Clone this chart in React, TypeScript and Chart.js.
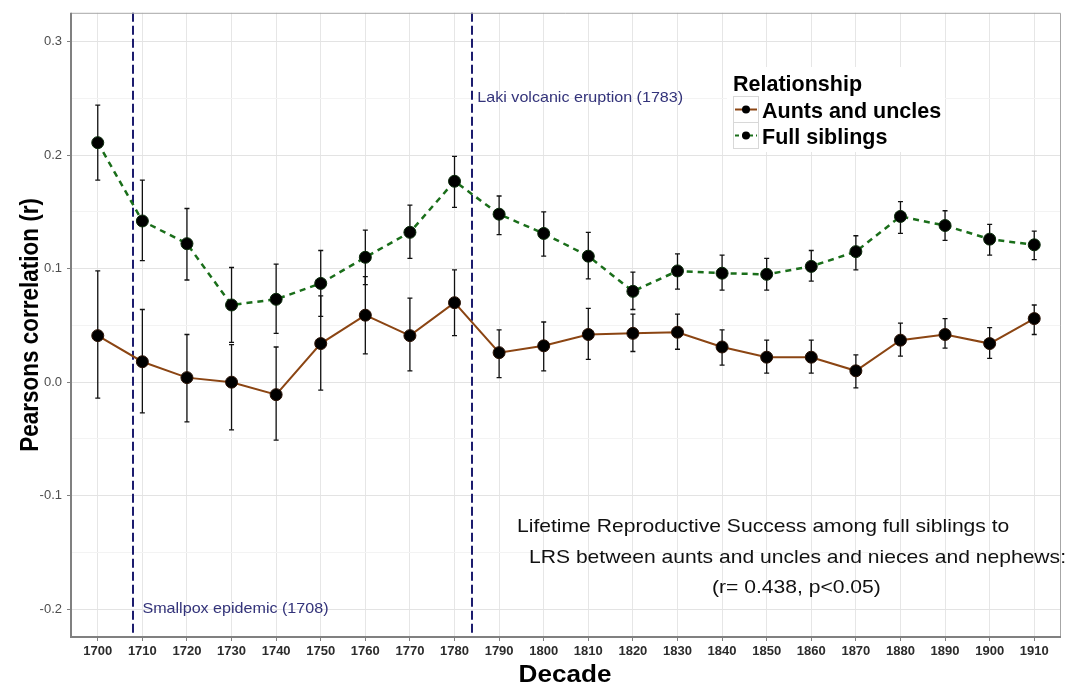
import { useEffect, useRef } from 'react';
import { Chart, registerables } from 'chart.js';
Chart.register(...registerables);

const decades = [1700, 1710, 1720, 1730, 1740, 1750, 1760, 1770, 1780, 1790, 1800, 1810, 1820, 1830, 1840, 1850, 1860, 1870, 1880, 1890, 1900, 1910];
const aunts = [0.041, 0.018, 0.004, 0.000, -0.011, 0.034, 0.059, 0.041, 0.070, 0.026, 0.032, 0.042, 0.043, 0.044, 0.031, 0.022, 0.022, 0.010, 0.037, 0.042, 0.034, 0.056];
const auntsLow = [-0.014, -0.027, -0.035, -0.042, -0.051, -0.007, 0.025, 0.010, 0.041, 0.004, 0.010, 0.020, 0.027, 0.029, 0.015, 0.008, 0.008, -0.005, 0.023, 0.030, 0.021, 0.042];
const auntsHigh = [0.098, 0.064, 0.042, 0.033, 0.031, 0.076, 0.093, 0.074, 0.099, 0.046, 0.053, 0.065, 0.060, 0.060, 0.046, 0.037, 0.037, 0.024, 0.052, 0.056, 0.048, 0.068];
const sibs = [0.211, 0.142, 0.122, 0.068, 0.073, 0.087, 0.110, 0.132, 0.177, 0.148, 0.131, 0.111, 0.080, 0.098, 0.096, 0.095, 0.102, 0.115, 0.146, 0.138, 0.126, 0.121];
const sibsLow = [0.178, 0.107, 0.090, 0.035, 0.043, 0.058, 0.086, 0.109, 0.154, 0.130, 0.111, 0.091, 0.064, 0.082, 0.081, 0.081, 0.089, 0.099, 0.131, 0.125, 0.112, 0.108];
const sibsHigh = [0.244, 0.178, 0.153, 0.101, 0.104, 0.116, 0.134, 0.156, 0.199, 0.164, 0.150, 0.132, 0.097, 0.113, 0.112, 0.109, 0.116, 0.129, 0.159, 0.151, 0.139, 0.133];

const yTicks = [-0.2, -0.15, -0.1, -0.05, 0, 0.05, 0.1, 0.15, 0.2, 0.25, 0.3];
const yMajorLabels = ['-0.2', '', '-0.1', '', '0.0', '', '0.1', '', '0.2', '', '0.3'];

const eventYears = [1708, 1784];
const eventLabels = ['Smallpox epidemic (1708)', 'Laki volcanic eruption (1783)'];
const eventLabelValues = [-0.2, 0.25];
const eventLabelOffsets = [9, 5];

const seriesNames = ['Aunts and uncles', 'Full siblings'];
const legendTitle = 'Relationship';
const noteLines = [
  'Lifetime Reproductive Success among full siblings to',
  'LRS between aunts and uncles and nieces and nephews:',
  '(r= 0.438, p<0.05)',
];

const BROWN = '#8B4513';
const GREEN = '#1a6e1a';
const NAVY = '#1c1c6e';
const FONT = '"Liberation Sans", Arial, sans-serif';
const SX = 1.11;

export default function App() {
  const ref = useRef<HTMLCanvasElement>(null);
  useEffect(() => {
    const stretchText = (ctx: any, text: string, x: number, y: number, align: string) => {
      ctx.save();
      ctx.translate(x, y);
      ctx.scale(SX, 1);
      ctx.textAlign = align;
      ctx.fillText(text, 0, 0);
      ctx.restore();
    };
    const errorBars = {
      id: 'errorBars',
      beforeDatasetsDraw(chart: any) {
        const { ctx, scales } = chart;
        const x = scales.x, y = scales.y;
        ctx.save();
        ctx.strokeStyle = '#111';
        ctx.lineWidth = 1.3;
        const draw = (lo: number[], hi: number[]) => {
          decades.forEach((d, i) => {
            const px = x.getPixelForValue(d);
            const y1 = y.getPixelForValue(lo[i]);
            const y2 = y.getPixelForValue(hi[i]);
            ctx.beginPath();
            ctx.moveTo(px, y1); ctx.lineTo(px, y2);
            ctx.moveTo(px - 2.5, y1); ctx.lineTo(px + 2.5, y1);
            ctx.moveTo(px - 2.5, y2); ctx.lineTo(px + 2.5, y2);
            ctx.stroke();
          });
        };
        draw(auntsLow, auntsHigh);
        draw(sibsLow, sibsHigh);
        ctx.restore();
      },
    };
    const frame = {
      id: 'frame',
      beforeDatasetsDraw(chart: any) {
        const { ctx, chartArea: a, scales } = chart;
        ctx.save();
        ctx.strokeStyle = NAVY;
        ctx.lineWidth = 2;
        ctx.setLineDash([9, 4]);
        eventYears.forEach((yr) => {
          const px = Math.round(scales.x.getPixelForValue(yr));
          ctx.beginPath();
          ctx.moveTo(px, a.top);
          ctx.lineTo(px, a.bottom);
          ctx.stroke();
        });
        ctx.setLineDash([]);
        ctx.strokeStyle = '#a6a6a6';
        ctx.lineWidth = 1;
        ctx.beginPath();
        ctx.moveTo(a.left, a.top + 0.5);
        ctx.lineTo(a.right - 0.5, a.top + 0.5);
        ctx.lineTo(a.right - 0.5, a.bottom);
        ctx.stroke();
        ctx.strokeStyle = '#808080';
        ctx.lineWidth = 2;
        ctx.beginPath();
        ctx.moveTo(a.left, a.top);
        ctx.lineTo(a.left, a.bottom);
        ctx.lineTo(a.right, a.bottom);
        ctx.stroke();
        ctx.restore();
      },
      afterDraw(chart: any) {
        const { ctx, chartArea: a, scales } = chart;
        ctx.save();
        // event labels
        ctx.fillStyle = '#33337a';
        ctx.font = `14.5px ${FONT}`;
        ctx.textBaseline = 'middle';
        eventYears.forEach((yr, i) => {
          const px = scales.x.getPixelForValue(yr);
          stretchText(ctx, eventLabels[i], px + eventLabelOffsets[i], scales.y.getPixelForValue(eventLabelValues[i]), 'left');
        });
        // axis titles
        ctx.textBaseline = 'alphabetic';
        ctx.fillStyle = '#000';
        ctx.font = `bold 23.5px ${FONT}`;
        stretchText(ctx, 'Decade', 565, 681.5, 'center');
        ctx.save();
        ctx.font = `bold 22.5px ${FONT}`;
        ctx.textBaseline = 'middle';
        ctx.translate(31, (a.top + a.bottom) / 2);
        ctx.scale(SX, 1);
        ctx.rotate(-Math.PI / 2);
        ctx.textAlign = 'center';
        ctx.fillText('Pearsons correlation (r)', 0, 0);
        ctx.restore();
        // note text
        ctx.font = `19px ${FONT}`;
        ctx.fillStyle = '#111';
        stretchText(ctx, noteLines[0], 517, 531.5, 'left');
        stretchText(ctx, noteLines[1], 529, 562.5, 'left');
        stretchText(ctx, noteLines[2], 712, 593, 'left');
        // legend
        ctx.fillStyle = '#fff';
        ctx.fillRect(727, 67, 218, 85);
        ctx.fillStyle = '#000';
        ctx.textAlign = 'left';
        ctx.font = `bold 21.5px ${FONT}`;
        ctx.fillText(legendTitle, 733, 91);
        const keys = [
          { y: 96, color: BROWN, dash: [] as number[], name: seriesNames[0], base: 118 },
          { y: 122, color: GREEN, dash: [4, 3], name: seriesNames[1], base: 143.5 },
        ];
        keys.forEach((k) => {
          ctx.strokeStyle = '#d8d8d8';
          ctx.lineWidth = 1;
          ctx.setLineDash([]);
          ctx.strokeRect(733.5, k.y + 0.5, 25, 26);
          ctx.strokeStyle = k.color;
          ctx.lineWidth = 2;
          ctx.setLineDash(k.dash);
          ctx.beginPath();
          ctx.moveTo(735, k.y + 13.5);
          ctx.lineTo(757, k.y + 13.5);
          ctx.stroke();
          ctx.setLineDash([]);
          ctx.fillStyle = '#000';
          ctx.beginPath();
          ctx.arc(746, k.y + 13.5, 4, 0, Math.PI * 2);
          ctx.fill();
          ctx.font = `bold 21.5px ${FONT}`;
          ctx.fillText(k.name, 762, k.base);
        });
        ctx.restore();
      },
    };

    const chart = new Chart(ref.current!, {
      type: 'line',
      data: {
        datasets: [
          {
            label: seriesNames[0],
            data: decades.map((d, i) => ({ x: d, y: aunts[i] })),
            borderColor: BROWN,
            borderWidth: 2,
            pointRadius: 6,
            pointBackgroundColor: '#000',
            pointBorderColor: '#2a1205',
            pointBorderWidth: 1,
          },
          {
            label: seriesNames[1],
            data: decades.map((d, i) => ({ x: d, y: sibs[i] })),
            borderColor: GREEN,
            borderWidth: 2.5,
            borderDash: [6, 5],
            pointRadius: 6,
            pointBackgroundColor: '#000',
            pointBorderColor: '#0a2a0a',
            pointBorderWidth: 1,
          },
        ],
      },
      options: {
        animation: false,
        responsive: false,
        layout: { padding: { top: 9, right: 14, left: 0, bottom: 0 } },
        plugins: { legend: { display: false }, tooltip: { enabled: false } },
        scales: {
          x: {
            type: 'linear',
            min: 1694,
            max: 1916,
            afterBuildTicks: (s: any) => { s.ticks = decades.map((v) => ({ value: v })); },
            afterFit: (s: any) => { s.height = 53; },
            border: { display: false },
            grid: { color: '#e6e6e6', lineWidth: 1, tickColor: '#808080', tickLength: 4 },
            ticks: {
              autoSkip: false,
              maxRotation: 0,
              padding: 3,
              color: '#2b2b2b',
              font: { family: FONT, size: 13, weight: 'bold' },
              callback: (v: any) => String(v),
            },
          },
          y: {
            type: 'linear',
            min: -0.2245,
            max: 0.3254,
            afterBuildTicks: (s: any) => { s.ticks = yTicks.map((v) => ({ value: v })); },
            afterFit: (s: any) => { s.width = 71; },
            border: { display: false },
            grid: {
              color: (c: any) => (c.index % 2 === 0 ? '#e3e3e3' : '#f3f3f3'),
              tickColor: (c: any) => (c.index % 2 === 0 ? '#808080' : 'rgba(0,0,0,0)'),
              lineWidth: 1,
              tickLength: 4,
            },
            ticks: {
              padding: 5,
              color: '#4d4d4d',
              font: { family: FONT, size: 13 },
              callback: (_v: any, i: number) => yMajorLabels[i],
            },
          },
        },
      },
      plugins: [errorBars, frame],
    } as any);
    return () => chart.destroy();
  }, []);
  return (
    <div style={{ position: 'fixed', left: 0, top: 0, width: 1075, height: 690, background: '#fff' }}>
      <canvas ref={ref} width={1075} height={690} style={{ display: 'block' }} />
    </div>
  );
}
